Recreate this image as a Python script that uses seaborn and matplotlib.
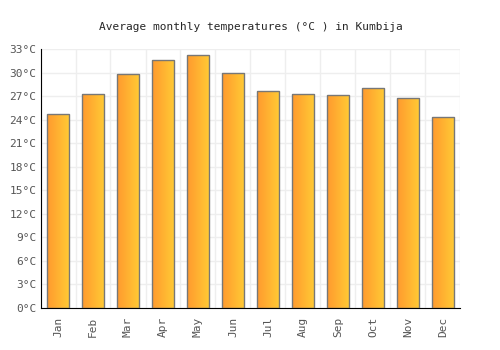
import numpy as np
import pandas as pd
import seaborn as sns
import matplotlib.pyplot as plt
from matplotlib.colors import LinearSegmentedColormap

months = ["Jan", "Feb", "Mar", "Apr", "May", "Jun",
          "Jul", "Aug", "Sep", "Oct", "Nov", "Dec"]
temps = [24.8, 27.35, 29.8, 31.7, 32.3, 30.0,
         27.7, 27.35, 27.2, 28.1, 26.8, 24.4]
yticks = list(range(0, 34, 3))

df = pd.DataFrame({"Month": months, "Temp": temps})

sns.set_style("white")
plt.rcParams['font.family'] = ['DejaVu Sans Mono']

fig = plt.figure(figsize=(5, 3.5), dpi=100)
ax = fig.add_axes([0.081, 0.12, 0.84, 0.739])

sns.barplot(data=df, x="Month", y="Temp", ax=ax, width=0.65,
            color="#ffb030", edgecolor="#777777", linewidth=1.0, zorder=3)

# horizontal orange gradient inside each bar
cmap = LinearSegmentedColormap.from_list("og", ["#ff9a2e", "#ffcb35"])
grad = np.linspace(0, 1, 64).reshape(1, -1)
for p in ax.patches:
    x0, y0 = p.get_x(), p.get_y()
    w, h = p.get_width(), p.get_height()
    im = ax.imshow(grad, cmap=cmap, aspect="auto", extent=[x0, x0 + w, y0, y0 + h],
                   zorder=2.5, interpolation="bilinear")
    im.set_clip_path(p)
    p.set_facecolor("none")

ax.set_xlim(-0.5, 11.5)
ax.set_ylim(0, 33)
ax.set_yticks(yticks)
ax.set_yticklabels([f"{t}°C" for t in yticks])
ax.set_xticks(np.arange(-0.5, 12, 1), minor=True)
ax.grid(axis="y", color="#eeeeee", linewidth=1, zorder=0)
ax.grid(axis="x", which="minor", color="#eeeeee", linewidth=1, zorder=0)
ax.tick_params(axis="x", which="major", labelrotation=90, length=0, labelsize=8,
               labelcolor="#555555", pad=6)
ax.tick_params(axis="x", which="minor", length=0)
ax.tick_params(axis="y", length=0, labelsize=8, labelcolor="#555555", pad=3)
ax.set_xlabel("")
ax.set_ylabel("")
for s in ["top", "right"]:
    ax.spines[s].set_visible(False)
ax.spines["left"].set_color("black")
ax.spines["bottom"].set_color("black")
ax.set_title("Average monthly temperatures (°C ) in Kumbija", fontsize=8, pad=14)

fig.savefig("out.png", dpi=100)
